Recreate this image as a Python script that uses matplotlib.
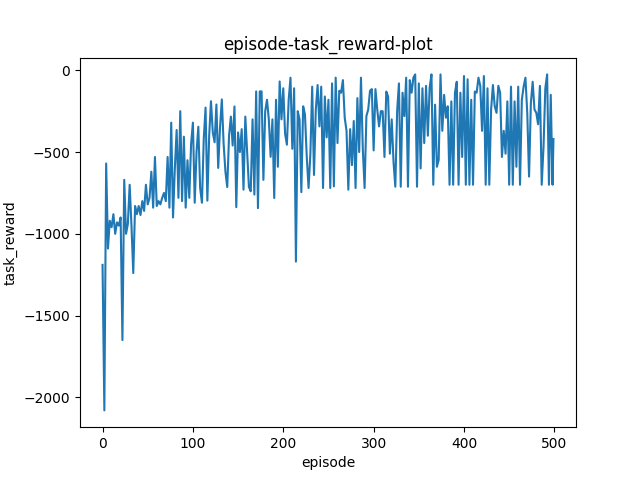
import matplotlib
matplotlib.use("Agg")
import matplotlib.pyplot as plt

episodes = list(range(0, 500, 2)) + [499]
task_reward = [
    -1190, -2080, -570, -1090, -920, -960, -880, -1000, -930, -950,
    -900, -1650, -670, -1000, -940, -700, -950, -1240, -830, -880,
    -830, -885, -800, -860, -700, -820, -780, -620, -840, -530,
    -830, -800, -820, -780, -750, -800, -530, -840, -320, -900,
    -600, -365, -780, -250, -800, -406, -840, -550, -780, -450,
    -320, -810, -500, -345, -720, -810, -420, -228, -797, -400,
    -189, -380, -440, -209, -597, -350, -178, -450, -621, -714,
    -400, -283, -460, -221, -837, -380, -500, -360, -730, -283,
    -500, -714, -740, -300, -760, -129, -843, -129, -129, -670,
    -250, -180, -300, -529, -300, -781, -180, -590, -68, -300,
    -110, -387, -455, -180, -45, -480, -110, -1170, -250, -300,
    -745, -220, -270, -530, -720, -510, -100, -640, -240, -90,
    -343, -100, -720, -160, -410, -180, -720, -80, -710, -45,
    -445, -125, -137, -60, -290, -370, -730, -360, -580, -310,
    -720, -170, -500, -45, -480, -720, -280, -240, -125, -115,
    -490, -115, -240, -343, -250, -250, -530, -130, -160, -510,
    -300, -560, -712, -250, -80, -712, -137, -280, -45, -712,
    -60, -137, -45, -25, -712, -80, -600, -110, -445, -95,
    -400, -105, -25, -700, -210, -590, -548, -25, -370, -150,
    -290, -220, -700, -190, -700, -137, -70, -700, -137, -530,
    -35, -700, -55, -700, -180, -700, -130, -137, -45, -95,
    -370, -35, -700, -110, -700, -240, -90, -220, -260, -95,
    -137, -530, -370, -510, -190, -700, -100, -700, -190, -590,
    -100, -700, -180, -100, -45, -260, -650, -200, -70, -240,
    -260, -330, -95, -700, -470, -110, -25, -700, -150, -700,
    -420,
]

fig, ax = plt.subplots(figsize=(6.4, 4.8), dpi=100)
ax.plot(episodes, task_reward)
ax.set_title('episode-task_reward-plot')
ax.set_xlabel('episode')
ax.set_ylabel('task_reward')
fig.savefig('out.png')
